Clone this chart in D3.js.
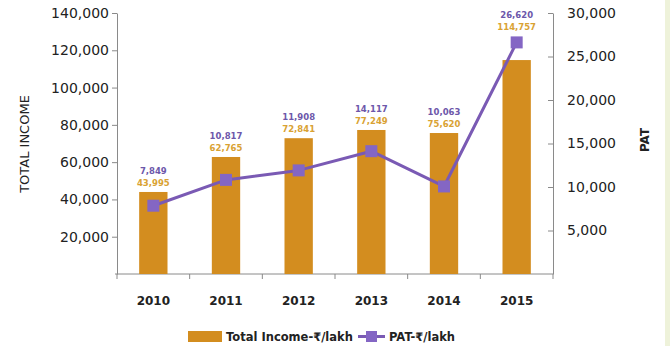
<!DOCTYPE html>
<html>
<head>
<meta charset="utf-8">
<script src="https://cdn.jsdelivr.net/npm/d3@7/dist/d3.min.js"></script>
<style>
  html, body { margin: 0; padding: 0; background: #ffffff; }
  svg { display: block; }
  text { font-family: "DejaVu Sans", Verdana, sans-serif; }
</style>
</head>
<body>
<svg id="chart" width="670" height="346"></svg>
<script>
// Yearly figures (₹ lakh)
const years = ["2010", "2011", "2012", "2013", "2014", "2015"];
const totalIncome = [43995, 62765, 72841, 77249, 75620, 114757];
const pat = [7849, 10817, 11908, 14117, 10063, 26620];
const incomeTicks = [20000, 40000, 60000, 80000, 100000, 120000, 140000];
const patTicks = [5000, 10000, 15000, 20000, 25000, 30000];

const barColor = "#d38d1f";
const lineColor = "#7a5ab4";
const markerColor = "#8466c4";
const patLabelColor = "#6d57aa";
const incomeLabelColor = "#d9a233";
const axisColor = "#8a8a8a";
const textColor = "#222222";

const svg = d3.select("#chart");

// light green edge strip on the right
svg.append("rect").attr("x", 665).attr("y", 0).attr("width", 5).attr("height", 346)
  .attr("fill", "#eef2da");

const plot = { left: 117, right: 553, top: 13, bottom: 274 };

const x = d3.scaleBand().domain(years).range([plot.left, plot.right]).padding(0);
const yL = d3.scaleLinear().domain([0, 140000]).range([plot.bottom, plot.top]);
const yR = d3.scaleLinear().domain([0, 30000]).range([plot.bottom, plot.top]);
const fmt = d3.format(",");
const barW = x.bandwidth() * 0.39;

// left axis
const leftAxis = svg.append("g").attr("transform", `translate(${plot.left},0)`)
  .call(d3.axisLeft(yL).tickValues(incomeTicks).tickFormat(fmt).tickSize(5).tickSizeOuter(0).tickPadding(3));
leftAxis.select(".domain").attr("stroke", axisColor);
leftAxis.selectAll(".tick line").attr("stroke", axisColor);
leftAxis.selectAll(".tick text").attr("fill", textColor).style("font-size", "14px");

// right axis
const rightAxis = svg.append("g").attr("transform", `translate(${plot.right},0)`)
  .call(d3.axisRight(yR).tickValues(patTicks).tickFormat(fmt).tickSize(5).tickSizeOuter(0).tickPadding(9));
rightAxis.select(".domain").attr("stroke", axisColor);
rightAxis.selectAll(".tick line").attr("stroke", axisColor).attr("x2", -5);
rightAxis.selectAll(".tick text").attr("fill", textColor).style("font-size", "14px");

// bottom axis: category boundaries as ticks, year labels in the middle
const xg = svg.append("g");
xg.append("line").attr("x1", plot.left - 2).attr("x2", plot.right).attr("y1", plot.bottom).attr("y2", plot.bottom)
  .attr("stroke", axisColor);
const bounds = years.map(d => x(d)).concat([x(years[years.length - 1]) + x.bandwidth()]);
xg.selectAll("line.tk").data(bounds).join("line").attr("class", "tk")
  .attr("x1", d => d).attr("x2", d => d).attr("y1", plot.bottom).attr("y2", plot.bottom + 5)
  .attr("stroke", axisColor);

// bars
svg.append("g").selectAll("rect").data(years).join("rect")
  .attr("x", d => x(d) + x.bandwidth() / 2 - barW / 2)
  .attr("width", barW)
  .attr("y", (d, i) => yL(totalIncome[i]))
  .attr("height", (d, i) => plot.bottom - yL(totalIncome[i]))
  .attr("fill", barColor);

// year labels
xg.selectAll("text").data(years).join("text")
  .attr("x", d => x(d) + x.bandwidth() / 2)
  .attr("y", 305)
  .attr("text-anchor", "middle")
  .attr("fill", textColor)
  .style("font-size", "12px").style("font-weight", "bold")
  .text(d => d);

// PAT line and markers
const cx = d => x(d) + x.bandwidth() / 2;
const line = d3.line().x((d, i) => cx(years[i])).y(d => yR(d));
svg.append("path").datum(pat).attr("d", line)
  .attr("fill", "none").attr("stroke", lineColor).attr("stroke-width", 3).attr("stroke-linejoin", "round");
const ms = 12;
svg.append("g").selectAll("rect").data(pat).join("rect")
  .attr("x", (d, i) => cx(years[i]) - ms / 2)
  .attr("y", d => yR(d) - ms / 2)
  .attr("width", ms).attr("height", ms)
  .attr("fill", markerColor);

// value labels above each column
const labels = svg.append("g");
years.forEach((yr, i) => {
  const top = Math.min(yL(totalIncome[i]), yR(pat[i]) - ms / 2);
  labels.append("text")
    .attr("x", cx(yr)).attr("y", top - 6)
    .attr("text-anchor", "middle").attr("fill", incomeLabelColor)
    .style("font-size", "8.5px").style("font-weight", "bold")
    .text(fmt(totalIncome[i]));
  labels.append("text")
    .attr("x", cx(yr)).attr("y", top - 18)
    .attr("text-anchor", "middle").attr("fill", patLabelColor)
    .style("font-size", "8.5px").style("font-weight", "bold")
    .text(fmt(pat[i]));
});

// axis titles
svg.append("text")
  .attr("transform", "translate(29,144) rotate(-90)")
  .attr("text-anchor", "middle").attr("fill", textColor)
  .style("font-size", "13px")
  .text("TOTAL INCOME");
svg.append("text")
  .attr("transform", "translate(649,140) rotate(-90)")
  .attr("text-anchor", "middle").attr("fill", textColor)
  .style("font-size", "12px").style("font-weight", "bold")
  .text("PAT");

// legend
const lg = svg.append("g");
lg.append("rect").attr("x", 188).attr("y", 331).attr("width", 34).attr("height", 11).attr("fill", barColor);
lg.append("text").attr("x", 226).attr("y", 341).attr("fill", textColor)
  .style("font-size", "11.5px").style("font-weight", "bold").text("Total Income-₹/lakh");
lg.append("line").attr("x1", 358).attr("x2", 385).attr("y1", 336.5).attr("y2", 336.5)
  .attr("stroke", lineColor).attr("stroke-width", 3);
lg.append("rect").attr("x", 366).attr("y", 331).attr("width", 11).attr("height", 11).attr("fill", markerColor);
lg.append("text").attr("x", 389).attr("y", 341).attr("fill", textColor)
  .style("font-size", "11.5px").style("font-weight", "bold").text("PAT-₹/lakh");
</script>
</body>
</html>
